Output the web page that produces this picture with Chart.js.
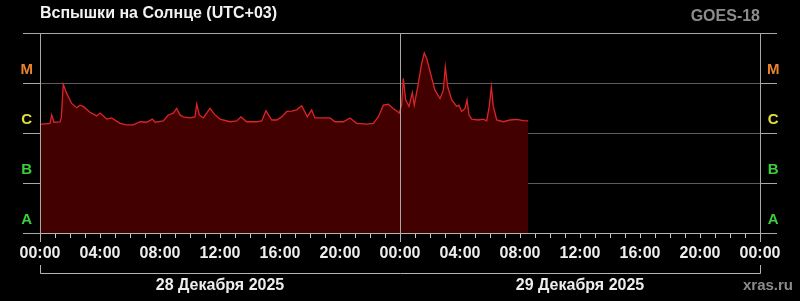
<!DOCTYPE html>
<html>
<head>
<meta charset="utf-8">
<script src="https://cdn.jsdelivr.net/npm/chart.js@4"></script>
<style>
  html, body { margin: 0; background: #000; }
  #wrap { width: 800px; height: 301px; }
</style>
</head>
<body>
<div id="wrap"><canvas id="flares"></canvas></div>
<script>
// hours since 28.12.2025 00:00 (UTC+03)
const hours = [0, 0.67, 0.78, 0.93, 1.33, 1.42, 1.55, 1.78, 2.11, 2.45,
  2.67, 2.89, 3.33, 3.78, 4.0, 4.45, 4.78, 5.33, 5.78, 6.22,
  6.67, 7.11, 7.49, 7.67, 8.22, 8.55, 8.89, 9.11, 9.33, 9.55,
  10.0, 10.33, 10.45, 10.62, 10.89, 11.33, 11.67, 12.0, 12.67, 13.11,
  13.4, 13.78, 14.45, 14.78, 15.07, 15.45, 15.78, 16.11, 16.45, 16.78,
  17.11, 17.45, 17.82, 18.11, 18.33, 18.67, 19.07, 19.33, 19.67, 20.22,
  20.67, 21.11, 21.78, 22.22, 22.55, 22.89, 23.22, 23.55, 23.89, 23.95,
  24.11, 24.22, 24.38, 24.6, 24.82, 24.95, 25.18, 25.45, 25.62, 25.78,
  26.0, 26.33, 26.67, 26.89, 27.02, 27.18, 27.45, 27.78, 27.93, 28.11,
  28.33, 28.47, 28.6, 28.78, 29.22, 29.55, 29.78, 29.95, 30.09, 30.22,
  30.45, 30.89, 31.33, 31.78, 32.22, 32.55];
// рентгеновский поток GOES, 1e-6 W/m2 (C1 = 1)
const flux = [1.49, 1.56, 2.29, 1.64, 1.66, 2.0, 9.4, 6.2, 3.9, 3.2,
  3.6, 3.4, 2.6, 2.2, 2.5, 1.9, 2.0, 1.56, 1.45, 1.45,
  1.68, 1.64, 1.9, 1.64, 1.74, 2.29, 2.5, 3.1, 2.3, 2.1,
  2.0, 2.1, 3.8, 2.3, 2.0, 3.1, 2.3, 1.9, 1.68, 1.74,
  2.1, 1.68, 1.68, 1.74, 2.8, 1.82, 1.82, 2.1, 2.7, 2.75,
  2.9, 3.5, 2.1, 2.9, 2.0, 2.0, 2.0, 2.0, 1.68, 1.68,
  2.0, 1.56, 1.5, 1.56, 2.1, 3.6, 3.75, 3.1, 2.6, 2.5,
  3.6, 12.4, 4.6, 3.4, 6.4, 3.6, 8.4, 25, 40, 31,
  17, 7.2, 4.9, 7.2, 21, 8.4, 4.6, 3.4, 3.6, 2.7,
  3.1, 4.6, 2.3, 1.9, 1.82, 1.9, 1.76, 3.4, 8.4, 3.4,
  1.82, 1.68, 1.82, 1.88, 1.76, 1.74];

const decades = [0.01, 0.1, 1, 10, 100];
const classValues = [18, 1.8, 0.18, 0.018];
const classLetters = ['M', 'C', 'B', 'A'];
const classColors = ['#e8842c', '#e4e03a', '#3ccf3c', '#3ccf3c'];
const dayCenters = [12, 36];
const dayLabels = ['28 Декабря 2025', '29 Декабря 2025'];
const titleText = 'Вспышки на Солнце (UTC+03)';
const sourceText = 'GOES-18';
const siteText = 'xras.ru';

const FONT = '"Liberation Sans", Arial, sans-serif';

function classIndex(v) {
  return classValues.findIndex(c => Math.abs(c - v) < 1e-9);
}
function isDecade(v) {
  return decades.some(d => Math.abs(d - v) < 1e-12);
}

function yAxis(pos) {
  return {
    type: 'logarithmic',
    position: pos,
    min: 0.01,
    max: 100,
    afterBuildTicks: s => {
      s.ticks = decades.concat(classValues).sort((a, b) => a - b).map(v => ({value: v}));
    },
    afterFit: s => { s.width = 40; },
    ticks: {
      autoSkip: false,
      crossAlign: 'center',
      padding: -10,
      font: {family: FONT, size: 15, weight: 'bold'},
      color: c => { const i = classIndex(c.tick.value); return i < 0 ? 'transparent' : classColors[i]; },
      callback: v => { const i = classIndex(v); return i < 0 ? '' : classLetters[i]; }
    },
    grid: {
      drawOnChartArea: pos === 'left',
      tickLength: 17,
      color: c => {
        if (!c.tick || !isDecade(c.tick.value)) return 'transparent';
        return (c.tick.value === 100 || c.tick.value === 0.01) ? '#a8a8a8' : '#5c5c5c';
      },
      tickColor: c => (c.tick && isDecade(c.tick.value)) ? '#a8a8a8' : 'transparent'
    },
    border: {color: '#b4b4b4'}
  };
}

// доп. отметки полуночи и скобка под датами
const decor = {
  id: 'decor',
  afterDraw(chart) {
    const {ctx} = chart;
    const x = chart.scales.x;
    ctx.save();
    ctx.textBaseline = 'alphabetic';
    ctx.font = 'bold 16px ' + FONT;
    ctx.fillStyle = '#f2f2f2';
    ctx.textAlign = 'left';
    ctx.fillText(titleText, 40, 18);
    ctx.fillStyle = '#8c8c8c';
    ctx.textAlign = 'right';
    ctx.fillText(sourceText, 760, 21);
    ctx.font = 'bold 15px ' + FONT;
    ctx.fillText(siteText, 793, 290);

    ctx.strokeStyle = '#b4b4b4';
    ctx.lineWidth = 1;
    ctx.beginPath();
    [0, 24, 48].forEach(h => {
      const px = Math.round(x.getPixelForValue(h)) + 0.5;
      ctx.moveTo(px, 233);
      ctx.lineTo(px, 242);
    });
    const x0 = Math.round(x.getPixelForValue(0)) + 0.5;
    const x1 = Math.round(x.getPixelForValue(48)) + 0.5;
    ctx.moveTo(x0, 265);
    ctx.lineTo(x0, 273.5);
    ctx.lineTo(x1, 273.5);
    ctx.lineTo(x1, 265);
    ctx.stroke();
    ctx.restore();
  }
};

const ctx = document.getElementById('flares').getContext('2d');
const chart = new Chart(ctx, {
  type: 'line',
  data: {
    datasets: [{
      label: 'GOES-18',
      data: hours.map((h, i) => ({x: h, y: flux[i]})),
      borderColor: '#dc2428',
      borderWidth: 1.3,
      backgroundColor: '#420000',
      fill: 'start',
      pointRadius: 0,
      tension: 0
    }]
  },
  options: {
    responsive: true,
    maintainAspectRatio: false,
    animation: false,
    layout: {padding: {top: 33}},
    plugins: {
      legend: {display: false},
      tooltip: {enabled: false}
    },
    scales: {
      x: {
        type: 'linear',
        position: 'bottom',
        weight: 0,
        min: 0,
        max: 48,
        afterFit: s => { s.height = 30; },
        ticks: {
          stepSize: 1,
          autoSkip: false,
          maxRotation: 0,
          padding: 6,
          color: '#eeeeee',
          font: {family: FONT, size: 16, weight: 'bold'},
          callback: v => v % 4 === 0 ? String(v % 24).padStart(2, '0') + ':00' : ''
        },
        grid: {
          z: 1,
          tickLength: 5,
          color: c => (c.tick && c.tick.value % 24 === 0) ? '#a8a8a8' : 'transparent',
          tickColor: '#c8c8c8'
        },
        border: {color: '#b4b4b4', z: 1}
      },
      x2: {
        type: 'linear',
        position: 'bottom',
        weight: 1,
        min: 0,
        max: 48,
        afterBuildTicks: s => { s.ticks = dayCenters.map(v => ({value: v})); },
        afterFit: s => { s.height = 38; },
        ticks: {
          autoSkip: false,
          maxRotation: 0,
          padding: 5,
          color: '#eeeeee',
          font: {family: FONT, size: 16, weight: 'bold'},
          callback: (v, i) => dayLabels[i]
        },
        grid: {display: false},
        border: {display: false}
      },
      y: yAxis('left'),
      y2: yAxis('right')
    }
  },
  plugins: [decor]
});
</script>
</body>
</html>
